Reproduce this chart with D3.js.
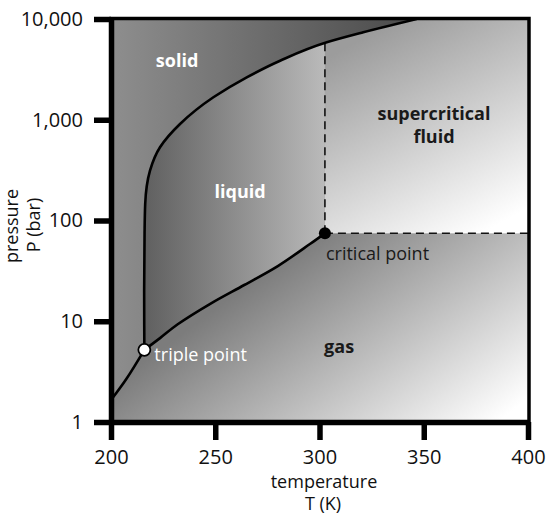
<!DOCTYPE html>
<html>
<head>
<meta charset="utf-8">
<script src="https://cdn.jsdelivr.net/npm/d3@7"></script>
<style>
  body { margin: 0; background: #fff; }
  text { font-family: "Open Sans", "Noto Sans", sans-serif; }
</style>
</head>
<body>
<div id="chart"></div>
<script>
// axis ticks
const tempTicks = [200, 250, 300, 350, 400];
const pressureTicks = [1, 10, 100, 1000, 10000];

// phase boundaries (T in K, P in bar)
const sublimationT = [200, 207.5, 216];
const sublimationP = [1.65, 2.7, 5.2];
const vaporT = [216, 223.5, 232, 248, 263.9, 280, 295.4, 302.6];
const vaporP = [5.2, 6.8, 9.33, 15.07, 22.9, 35.3, 58.4, 74.6];
const meltingT = [216, 215.9, 216.1, 216.4, 218.7, 223.5, 233.1, 249.1, 265.1, 281.1, 303.5, 321, 346.6];
const meltingP = [5.2, 20, 75, 146, 312, 533, 908, 1671, 2637, 3855, 5870, 7380, 10000];

const triplePoint = { T: 216, P: 5.2, label: "triple point" };
const criticalPoint = { T: 302.6, P: 74.6, label: "critical point" };

// region names, placed in data units
const regionNames = ["solid", "liquid", "supercritical", "fluid", "gas"];
const regionT = [231.7, 261.9, 354.9, 354.9, 309.4];
const regionP = [3340, 167, 995, 588, 4.84];
const regionColor = ["#fff", "#fff", "#1a1a1a", "#1a1a1a", "#1a1a1a"];

const width = 550, height = 519;

const svg = d3.select("#chart").append("svg")
    .attr("width", width)
    .attr("height", height);

const x = d3.scaleLinear().domain([200, 400]).range([111, 528]);
const y = d3.scaleLog().domain([1, 10000]).range([422, 19]);

const pts = (ts, ps) => ts.map((t, i) => [t, ps[i]]);
const subPts = pts(sublimationT, sublimationP);
const vapPts = pts(vaporT, vaporP);
const meltPts = pts(meltingT, meltingP);

const lineX = d3.line().x(d => x(d[0])).y(d => y(d[1])).curve(d3.curveCatmullRom.alpha(0.5));
const lineY = d3.line().x(d => x(d[0])).y(d => y(d[1])).curve(d3.curveMonotoneY);

// gradients
const defs = svg.append("defs");
function grad(id, x1, y1, x2, y2, c1, c2) {
    const g = defs.append("linearGradient").attr("id", id)
        .attr("gradientUnits", "userSpaceOnUse")
        .attr("x1", x1).attr("y1", y1).attr("x2", x2).attr("y2", y2);
    g.append("stop").attr("offset", 0).attr("stop-color", c1);
    g.append("stop").attr("offset", 1).attr("stop-color", c2);
}
grad("gasGrad", 200, 320, 356, 528, "#7c7c7c", "#ffffff");
grad("superGrad", 360, 40, 470, 240, "#9c9c9c", "#ffffff");
grad("liquidGrad", 145, 0, 325, 0, "#606060", "#bababa");
grad("solidGrad", 111, 0, 415, 0, "#8e8e8e", "#4a4a4a");

defs.append("clipPath").attr("id", "plotClip")
    .append("rect")
    .attr("x", x(200)).attr("y", y(10000))
    .attr("width", x(400) - x(200)).attr("height", y(1) - y(10000));

const plot = svg.append("g").attr("clip-path", "url(#plotClip)");

// gas: whole plot
plot.append("rect")
    .attr("x", x(200)).attr("y", y(10000))
    .attr("width", x(400) - x(200)).attr("height", y(1) - y(10000))
    .attr("fill", "url(#gasGrad)");

// supercritical fluid
plot.append("rect")
    .attr("x", x(criticalPoint.T)).attr("y", y(10000))
    .attr("width", x(400) - x(criticalPoint.T)).attr("height", y(criticalPoint.P) - y(10000))
    .attr("fill", "url(#superGrad)");

// liquid
plot.append("path")
    .attr("d", lineX(vapPts)
        + `L${x(criticalPoint.T)},${y(10000)}L${x(triplePoint.T)},${y(10000)}Z`)
    .attr("fill", "url(#liquidGrad)");

// solid
plot.append("path")
    .attr("d", `M${x(200)},${y(10000)}L${x(200)},${y(sublimationP[0])}`
        + lineX(subPts).replace(/^M/, "L")
        + lineY(meltPts).replace(/^M/, "L") + "Z")
    .attr("fill", "url(#solidGrad)");

// dashed boundaries of the supercritical region
function meltingAt(T) {
    for (let i = meltPts.length - 2; i >= 0; i--) {
        const a = meltPts[i], b = meltPts[i + 1];
        if (T >= a[0] && T <= b[0]) {
            const f = (T - a[0]) / (b[0] - a[0]);
            return Math.pow(10, Math.log10(a[1]) + f * (Math.log10(b[1]) - Math.log10(a[1])));
        }
    }
    return 10000;
}
plot.append("line")
    .attr("x1", x(criticalPoint.T)).attr("y1", y(criticalPoint.P))
    .attr("x2", x(criticalPoint.T)).attr("y2", y(meltingAt(criticalPoint.T)))
    .attr("stroke", "#111").attr("stroke-width", 1.6).attr("stroke-dasharray", "8,5");
plot.append("line")
    .attr("x1", x(criticalPoint.T)).attr("y1", y(criticalPoint.P))
    .attr("x2", x(400)).attr("y2", y(criticalPoint.P))
    .attr("stroke", "#111").attr("stroke-width", 1.6).attr("stroke-dasharray", "8,5");

// phase boundary curves
[[lineX, subPts], [lineX, vapPts], [lineY, meltPts]].forEach(([gen, data]) => {
    plot.append("path")
        .attr("d", gen(data))
        .attr("fill", "none")
        .attr("stroke", "#000")
        .attr("stroke-width", 2.6);
});

// region labels
regionNames.forEach((name, i) => {
    svg.append("text")
        .attr("x", x(regionT[i]))
        .attr("y", y(regionP[i]))
        .attr("text-anchor", "middle")
        .attr("font-size", 18)
        .attr("font-weight", "bold")
        .attr("fill", regionColor[i])
        .text(name);
});

// critical and triple points
svg.append("circle")
    .attr("cx", x(criticalPoint.T)).attr("cy", y(criticalPoint.P))
    .attr("r", 6).attr("fill", "#000");
svg.append("text")
    .attr("x", x(criticalPoint.T) + 1).attr("y", y(criticalPoint.P) + 27)
    .attr("font-size", 18).attr("fill", "#1a1a1a")
    .text(criticalPoint.label);

svg.append("circle")
    .attr("cx", x(triplePoint.T)).attr("cy", y(triplePoint.P))
    .attr("r", 6).attr("fill", "#fff")
    .attr("stroke", "#000").attr("stroke-width", 1.8);
svg.append("text")
    .attr("x", x(triplePoint.T) + 10).attr("y", y(triplePoint.P) + 11)
    .attr("font-size", 18).attr("fill", "#fff")
    .text(triplePoint.label);

// frame
svg.append("rect")
    .attr("x", x(200)).attr("y", y(10000) - 0.5)
    .attr("width", x(400) - x(200) + 1).attr("height", y(1) - y(10000) + 0.5)
    .attr("fill", "none").attr("stroke", "#000").attr("stroke-width", 3.5);

// axes
const xAxis = svg.append("g")
    .attr("transform", `translate(0,${y(1)})`)
    .call(d3.axisBottom(x).tickValues(tempTicks).tickSize(18).tickSizeOuter(0).tickPadding(10));
const yAxis = svg.append("g")
    .attr("transform", `translate(${x(200)},0)`)
    .call(d3.axisLeft(y).tickValues(pressureTicks).tickFormat(d3.format(",")).tickSize(17).tickSizeOuter(0).tickPadding(11));

[xAxis, yAxis].forEach(ax => {
    ax.select(".domain").attr("stroke", "#000").attr("stroke-width", 5.5);
    ax.selectAll(".tick line").attr("stroke", "#000").attr("stroke-width", 5.5);
    ax.selectAll(".tick text")
        .attr("font-family", "Open Sans, sans-serif")
        .attr("font-size", 20)
        .attr("fill", "#111");
});

// axis titles
svg.append("text")
    .attr("x", 324).attr("y", 488)
    .attr("text-anchor", "middle").attr("font-size", 18).attr("fill", "#111")
    .text("temperature");
svg.append("text")
    .attr("x", 323).attr("y", 510)
    .attr("text-anchor", "middle").attr("font-size", 18).attr("fill", "#111")
    .text("T (K)");
svg.append("text")
    .attr("transform", "translate(18,226) rotate(-90)")
    .attr("text-anchor", "middle").attr("font-size", 18).attr("fill", "#111")
    .text("pressure");
svg.append("text")
    .attr("transform", "translate(40,225) rotate(-90)")
    .attr("text-anchor", "middle").attr("font-size", 18).attr("fill", "#111")
    .text("P (bar)");
</script>
</body>
</html>
